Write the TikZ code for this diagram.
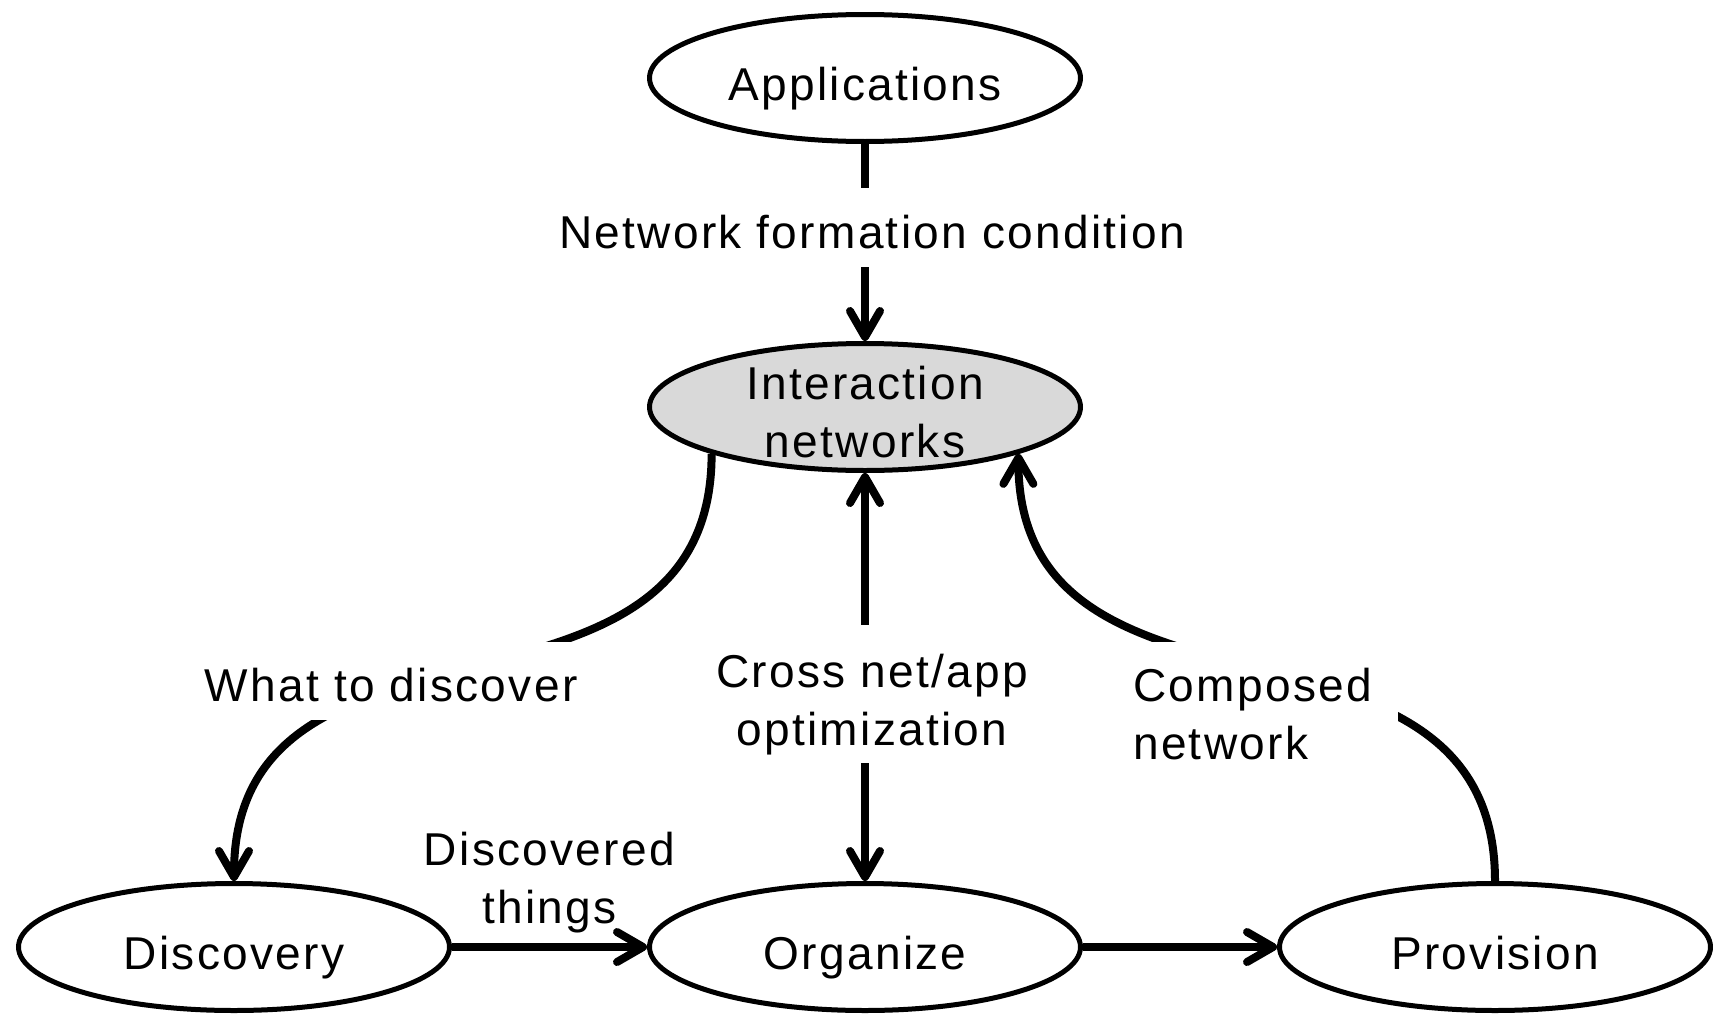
\documentclass[tikz,border=0pt]{standalone}
\usepackage{fontspec}
\setmainfont{Liberation Sans}[LetterSpace=5]
\usetikzlibrary{shapes.geometric,arrows.meta}
\begin{document}
\begin{tikzpicture}[x=0.1mm,y=0.1mm,
  >={Straight Barb[length=2.6mm,width=3.0mm,round]},
  txt/.style={font=\fontsize{13.1}{16.5}\selectfont},
  state/.style={txt,ellipse,draw,line width=0.5mm,minimum width=43.1mm,minimum height=12.7mm,inner sep=0pt},
  onestate/.style={state,text height=4.5mm,text depth=0.1mm},
  conn/.style={line width=0.8mm},
  lbl/.style={txt,fill=white,inner ysep=0pt},
  lblone/.style={lbl,text height=6.0mm,text depth=1.9mm,inner xsep=0.2mm}
]
\useasboundingbox (0,0) rectangle (1713,1014);
\node[onestate] (app) at (865,936) {Applications};
\node[state,fill=gray!30,text height=0mm,text depth=1.5mm] (inter) at (865,607)
  {\begin{tabular}[t]{@{}c@{}}Interaction\\networks\end{tabular}};
\node[onestate] (disc) at (234,67) {Discovery};
\node[onestate] (org) at (865,67) {Organize};
\node[onestate] (prov) at (1495,67) {Provision};

\draw[conn,->] (app) -- node[lblone,pos=0.424,xshift=0.7mm] (lnet) {Network formation condition} (inter);

\draw[conn,->] (inter.197) .. controls +(0,-300) and +(0,300) ..
  node[lblone,text depth=1.8mm,pos=0.5,xshift=-8.18mm,yshift=-1.35mm] (lwhat) {What to discover} (disc.north);

\draw[conn,->] (prov.north) .. controls +(0,300) and +(0,-300) ..
  node[lbl,inner xsep=2.6mm,text height=6.0mm,text depth=8.1mm,pos=0.5,xshift=-0.42mm,yshift=-4.5mm] (lcomp)
  {\begin{tabular}[t]{@{}l@{}}Composed\\network\end{tabular}} (inter.343);

\draw[conn,<->] (inter) -- node[lbl,inner xsep=0.2mm,text height=6.2mm,text depth=7.6mm,pos=0.5417,xshift=0.7mm] (lcross)
  {\begin{tabular}[t]{@{}c@{}}Cross net/app\\optimization\end{tabular}} (org);

\draw[conn,->] (disc) -- node[txt,above,align=center,inner sep=0pt,outer sep=0pt,yshift=1.4mm] (ldisc) {Discovered\\things} (org);

\draw[conn,->] (org) -- (prov);
\end{tikzpicture}
\end{document}
